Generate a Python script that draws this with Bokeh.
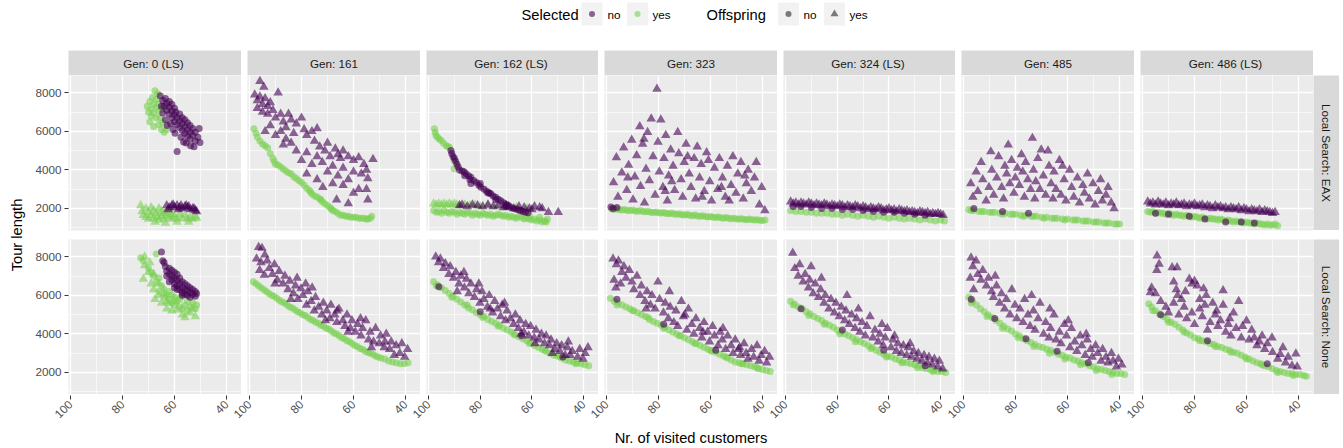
import math
from bokeh.plotting import figure
from bokeh.layouts import row, column
from bokeh.models import Range1d, FixedTicker, Spacer
from bokeh.core.properties import value
from bokeh.embed import file_html
from bokeh.resources import INLINE

FONT = "Liberation Sans"
PURPLE = "#440154"
GREEN = "#7AD151"

GEN_LABELS = ["Gen: 0  (LS)", "Gen: 161", "Gen: 162  (LS)", "Gen: 323", "Gen: 324  (LS)", "Gen: 485", "Gen: 486  (LS)"]
GENS = [0, 161, 162, 323, 324, 485, 486]
ROW_LABELS = ["Local Search: EAX", "Local Search: None"]
X_TICKS = [40, 60, 80, 100]
X_MINOR = [50, 70, 90]
Y_TICKS = [2000, 4000, 6000, 8000]
Y_MINOR = [1000, 3000, 5000, 7000]
SELECTED_LEVELS = ["no", "yes"]
OFFSPRING_LEVELS = ["no", "yes"]

# ---------------- data: (nr. of visited customers, tour length) ----------------
# Gen 0, EAX
EAX_0_SELNO_OFFNO = [(65.5,7850),(64.5,7600),(64,7300),(63.5,7700),(63,7450),(63,7100),(62,7550),(62,7250),(62,6900),(61,7400),(61,7050),(61,6700),(60,7200),(60,6850),(60,6500),(59.5,7000),(59,6700),(59,6350),(59,4950),(58,6900),(58,6550),(58,6200),(57,6700),(57,6400),(57,6050),(56,6600),(56,6250),(56,5900),(55,6450),(55,6100),(55,5750),(54,6300),(54,5950),(54,5600),(53,6150),(53,5800),(52.5,5200),(52,5950),(52,5500),(51,5700),(50.5,6150),(50.2,5420),(61.5,6400),(63.5,6600),(60.5,6100),(57.5,5700),(55.5,5400),(64.5,6950),(62.8,6300),(59.8,5900),(56.5,5450),(53.8,5250),(65,7300)]
EAX_0_SELYES_OFFNO = [(70.5,7300),(70,7000),(69.5,7550),(69,7150),(69,6800),(68.5,7750),(68,7400),(68,6950),(67.5,8100),(67,7650),(67,7250),(67,6700),(66.5,7950),(66,7450),(66,7050),(66,6350),(65.5,6700),(65,7150),(65,6100),(64.5,6450),(64,5950),(63,6100),(68,6250),(69.5,6500)]
EAX_0_SELNO_OFFYES = [(63,2150),(62,2050),(61,2150),(60,2050),(59,2150),(58,2050),(57,2000),(56,2100),(55,2050),(54,1950),(53,2000),(52,1900),(51.5,1850),(60.5,2200),(57.5,2150),(55.5,2150),(62.5,1950),(58.5,1950),(54.5,2100),(52.5,2000)]
EAX_0_SELYES_OFFYES = [(73,2150),(72.5,1850),(72,1650),(71,2000),(71,1550),(70,1800),(70,1450),(69,2050),(69,1650),(68,1900),(68,1500),(67.5,1300),(67,1750),(66.5,1550),(66,2000),(66,1400),(65,1850),(65,1600),(64,1750),(64,1450),(63.5,1250),(63,1650),(62,1550),(62,1850),(61,1450),(61,1700),(60,1600),(59,1450),(58,1700),(57,1500),(56,1650),(55,1450),(54.5,1300),(54,1550),(53,1450),(52,1600),(51.5,1500),(59,1300)]
# Gen 0, None
NONE_0_SELNO_OFFNO = [(65,8250),(64,7700),(63.5,7500),(63,7250),(62,7400),(62,7100),(61,7300),(61,7000),(61,6800),(60,7200),(60,6900),(60,6600),(59,7100),(59,6800),(59,6500),(58,6900),(58,6600),(58,6300),(57,6700),(57,6400),(57,6150),(56,6600),(56,6300),(56,6050),(55,6500),(55,6250),(55,6000),(54,6400),(54,6150),(53,6300),(53,6050),(52,6200),(52,5950),(51.5,6100),(59,6300),(62,6700),(63,7000),(60,6400),(57,6000),(54,5900),(64.5,7800)]
NONE_0_SELYES_OFFNO = [(73,7950),(72,7800),(67,8150),(70,7400),(69,7200),(68,7000),(67,6700),(66,6900),(65,6500),(64,6300),(63,6000),(62,5800),(61,5600),(60,5500),(59,5700),(58,5400),(57,5300),(56,5500),(55,5200),(54,5400),(53,5600),(52,5300),(66,6200),(64,5900),(61,6000),(58,5800),(55,5700),(62,6200),(60,5900),(51.5,5500)]
NONE_0_SELNO_OFFYES = []
NONE_0_SELYES_OFFYES = [(71.5,8000),(71.5,7550),(72,6850),(70,7200),(69,6600),(68,6300),(67.5,5800),(66,6000),(65,5600),(63,5300),(62.5,5600),(61,5200),(59,5250),(57,5000),(56,4850),(52,4900),(54,5100),(58,5900),(60,5700),(64,6100),(66,6600),(68,7100),(53,5300),(63,5700),(69.5,7700)]

# Gen 161
EAX_161_SELNO_OFFNO = []
EAX_161_SELYES_OFFNO = [(98.3,6140),(97.5,5900),(97,5700),(96,5500),(95,5350),(94,5250),(93,5150),(92,4850),(91,4600),(90.5,4450),(90,4300),(89,4250),(88,4150),(87,4050),(86,3950),(85,3850),(84,3800),(83,3650),(82,3550),(81,3450),(80,3350),(79,3200),(78,3050),(77,2950),(76.5,2850),(76,2750),(75,2650),(74,2600),(73,2500),(72.5,2450),(72,2350),(71,2250),(70,2150),(69,2050),(68.5,1980),(68,1900),(67,1850),(66,1750),(65,1650),(64,1650),(63,1600),(62,1600),(61,1550),(60,1550),(59,1550),(58,1500),(57,1500),(56,1500),(55,1450),(54.5,1450),(53.5,1500),(53,1600)]
EAX_161_SELNO_OFFYES = [(96,8600),(94.5,8300),(98,7900),(97,7600),(96,7800),(95,7400),(94,7700),(93,7300),(92,7500),(89,8000),(97,7200),(95,7000),(93,6900),(91,7100),(90,6700),(88,6900),(87,6500),(86,6200),(85,6900),(84,6600),(82,6400),(80,6700),(79,6100),(78,5800),(76,6000),(74,6150),(75,5500),(73,5200),(71,5000),(70,5400),(69,4700),(67,5100),(66,4800),(65,4600),(64,5000),(62,4700),(60,4500),(58,4650),(56,4300),(52.5,4550),(55,4000),(54.5,3550),(57,3800),(60,3900),(62,3500),(64,4100),(66,3700),(68,4200),(70,3900),(72,4400),(74,4700),(76,4300),(78,3800),(80,4500),(82,5000),(84,5400),(86,5600),(88,6000),(90,5800),(92,6300),(94,6000),(71.8,3100),(66.5,2450),(62,2260),(54.5,2450),(58,3000),(60,2800),(64,3200),(68,3300),(55,3000),(74,3500),(78,4900),(83,5900),(87,5300)]
EAX_161_SELYES_OFFYES = []
NONE_161_SELNO_OFFNO = []
NONE_161_SELYES_OFFNO = [(98.5,6700),(97.5,6600),(96.5,6500),(95.5,6400),(94.5,6300),(93.5,6200),(92.5,6100),(91.5,6000),(90.5,5950),(89.5,5850),(88.5,5750),(87.5,5650),(86.5,5600),(85.5,5500),(84.5,5400),(83.5,5350),(82.5,5250),(81.5,5150),(80.5,5100),(79.5,5000),(78.5,4950),(77.5,4850),(76.5,4750),(75.5,4700),(74.5,4600),(73.5,4550),(72.5,4450),(71.5,4400),(70.5,4300),(69.5,4250),(68.5,4150),(67.5,4050),(66.5,4000),(65.5,3900),(64.5,3800),(63.5,3750),(62.5,3650),(61.5,3600),(60.5,3500),(59.5,3400),(58.5,3350),(57.5,3250),(56.5,3200),(55.5,3100),(54.5,3050),(53.5,3000),(52.5,2950),(51.5,2850),(50.5,2800),(49.5,2750),(48,2700),(46.5,2600),(45,2550),(43.5,2500),(42,2450),(40.5,2450),(39,2500)]
NONE_161_SELNO_OFFYES = [(96.5,8500),(95.2,8450),(94.1,8100),(97.3,7900),(95.6,7700),(93.2,7800),(92.4,7400),(96.1,7300),(94.3,7050),(91.2,7100),(90.4,7600),(89.3,6800),(88.6,7250),(87.1,6600),(86.4,7000),(85.2,6300),(84.5,6750),(83.1,6100),(82.3,6500),(81.4,5800),(80.2,6350),(79.5,6000),(78.1,5500),(77.6,6200),(76.3,5700),(75.1,5200),(74.6,5900),(73.4,5400),(72.2,5000),(71.6,5600),(70.3,5200),(69.1,4800),(68.7,5500),(67.2,5000),(66.4,4600),(65.6,5300),(64.1,4700),(63.3,4400),(62.5,5000),(61.2,4300),(60.6,4700),(59.3,4100),(58.4,4500),(57.1,3900),(56.5,4300),(55.3,4700),(54.2,3700),(53.6,4100),(52.3,3600),(51.5,4300),(50.1,3500),(49.6,3900),(48.2,3300),(47.4,4000),(46.1,3200),(45.5,3600),(44.3,2900),(43.6,3400),(42.2,3000),(41.4,3500),(40.3,2800),(39.2,3200),(62.1,4100),(66.3,5200),(78.4,6600),(84.1,5800),(90.2,6600),(57.3,4800),(70.8,4700),(75.9,6400),(81.7,6900),(53.1,3300),(47.9,3600)]
NONE_161_SELYES_OFFYES = []

# Gen 162
EAX_162_SELNO_OFFNO = [(91.3,5010),(91,4850),(90.5,4700),(90,4600),(89.5,4450),(89,4300),(88.5,4150),(88,4000),(87,3950),(86.2,3900),(85.5,3800),(84.5,3700),(83.6,3620),(83.6,3290),(82.5,3450),(81.5,3350),(80.5,3200),(79.7,3100),(78.5,3000),(77.5,2900),(76.5,2820),(75.9,2760),(75,2650),(74,2580),(73,2480),(72,2400),(71,2300),(70,2220),(69,2150),(68.2,2070),(67,2000),(66,1960),(65,1920),(64.3,1900),(63.4,1850),(62.5,1800),(61.5,1780),(86,3700),(84,3500),(80,3300),(77,2800),(74,2450),(70,2100)]
EAX_162_SELYES_OFFNO = [(97.7,6130),(97.4,5950),(97.1,5790),(96.5,5700),(95.8,5600),(95.1,5530),(94.2,5400),(93.2,5270),(92.5,5200),(91.9,5180),(90.1,4490),(90.1,4060),(98,1900),(97,1800),(96,1850),(95,1750),(94,1900),(93,1800),(92,1750),(91,1850),(90,1800),(89,1700),(88,1800),(87,1750),(86,1700),(85,1800),(84,1750),(83,1650),(82,1750),(81,1700),(80,1650),(79,1750),(78,1700),(77,1650),(76,1700),(75,1600),(74,1650),(73,1700),(72,1650),(71,1600),(70,1650),(69,1550),(68,1600),(67,1550),(66,1500),(65,1600),(64,1550),(63,1450),(62,1500),(61,1450),(60,1400),(59,1450),(58,1350),(57,1400),(56,1300),(55,1350),(54.5,1300),(54,1450),(57,1550),(61,1650)]
EAX_162_SELNO_OFFYES = [(88,2150),(87,2200),(85,2100),(83,2200),(81,2150),(79,2100),(77,2200),(75,2100),(73,2150),(71,2050),(69,2100),(67,2000),(65,2100),(63,2050),(61,2000),(59,2100),(57,2050),(56,2000),(53.6,1800),(49.8,1800),(60,1950),(70,2150)]
EAX_162_SELYES_OFFYES = [(98,2250),(97,2200),(96,2250),(95,2200),(94,2250),(93,2200),(92,2250),(91,2200),(90,2250),(89,2200),(88,2150),(86,2200),(84,2150),(82,2200),(80,2100),(77,2150),(74,2100),(70,2050),(66,2050),(62,2000)]
NONE_162_SELNO_OFFNO = [(96,6450),(80,5150),(64,3900),(48,2800)]
NONE_162_SELYES_OFFNO = [(98,6700),(96.5,6550),(95,6400),(93.5,6250),(92,6100),(90.5,5950),(89,5800),(87.5,5650),(86,5500),(84.5,5350),(83,5250),(81.5,5100),(80,5000),(78.5,4900),(77,4750),(75.5,4650),(74,4550),(72.5,4450),(71,4300),(69.5,4200),(68,4100),(66.5,3950),(65,3850),(63.5,3750),(62,3650),(60.5,3550),(59,3400),(57.5,3300),(56,3200),(54.5,3100),(53,3000),(51.5,2900),(50,2850),(48.5,2750),(47,2650),(45.5,2600),(44,2550),(42.5,2500),(41,2450),(39.5,2400),(38,2350),(97,6500),(91,5900),(85,5500),(79,4850),(73,4400),(67,4000),(61,3500),(55,3150),(49,2800),(43,2450)]
NONE_162_SELNO_OFFYES = [(97.2,8000),(96.1,7700),(95.4,7900),(94.2,7400),(93.5,7650),(92.1,7100),(91.6,7500),(90.3,6900),(89.4,7200),(88.2,6600),(87.5,7000),(86.1,6400),(85.3,6850),(84.4,6100),(83.6,6600),(82.2,5900),(81.4,6300),(80.1,5600),(79.3,6200),(78.6,5800),(77.2,5400),(76.5,6000),(75.2,5100),(74.4,5700),(73.3,5300),(72.1,4900),(71.5,5500),(70.2,4700),(69.6,5200),(68.3,4800),(67.1,4500),(66.4,5000),(65.2,4300),(64.6,4700),(63.1,4100),(62.4,4500),(61.2,3900),(60.5,4400),(59.1,3800),(58.4,4200),(57.2,3700),(56.3,4000),(55.1,3500),(54.5,3900),(53.2,3400),(52.6,3700),(51.1,3200),(50.4,3500),(49.2,3100),(48.5,3400),(47.1,2900),(46.3,3300),(45.2,2900),(44.4,3100),(42.3,2800),(41.5,3200),(40.2,2700),(39.4,3000),(38.3,3300),(70.6,5600),(80.5,6600),(86.3,7200),(76.1,5300),(64.2,4000),(58.8,3500),(52.1,3000),(45.9,3600),(88.9,6200)]
NONE_162_SELYES_OFFYES = []

# Gen 323
EAX_323_SELNO_OFFNO = [(98.3,2080),(97.5,2000),(96,2050)]
EAX_323_SELYES_OFFNO = [(98,1980),(97,1950),(96,1990),(95,1940),(94,1920),(93,1950),(92,1900),(91,1890),(90,1920),(89,1870),(88,1860),(87,1890),(86,1840),(85,1830),(84,1860),(83,1810),(82,1790),(81,1820),(80,1780),(79,1760),(78,1790),(77,1740),(76,1730),(75,1760),(74,1710),(73,1700),(72,1720),(71,1680),(70,1660),(69,1690),(68,1650),(67,1630),(66,1660),(65,1610),(64,1600),(63,1620),(62,1580),(61,1560),(60,1590),(59,1550),(58,1530),(57,1560),(56,1520),(55,1500),(54,1530),(53,1490),(52,1470),(51,1500),(50,1460),(49,1450),(48,1470),(47,1430),(46,1420),(45,1450),(44,1410),(43,1400),(42,1420),(41,1390),(40,1380),(39,1400)]
EAX_323_SELNO_OFFYES = [(97.3,3350),(96.2,4650),(95.6,2600),(94.1,3850),(93.4,5150),(92.2,2950),(91.5,4250),(90.3,5550),(89.8,2450),(89.1,3650),(88.4,4750),(87.2,6250),(86.9,3150),(86.1,5350),(85.4,2300),(84.8,4050),(84.2,5950),(83.5,3450),(82.8,6650),(82.1,4700),(81.3,2700),(80.6,8200),(80.2,5450),(79.7,3900),(79.1,6600),(78.3,3100),(77.9,4600),(77.2,5800),(76.6,2400),(76.1,3700),(75.3,5050),(74.4,4200),(73.8,2950),(72.6,5950),(72.2,4850),(71.3,3500),(70.7,2600),(70.1,4400),(69.4,5350),(68.2,3800),(67.5,3100),(66.3,4600),(65.7,2500),(65.1,5200),(64.2,3600),(63.6,4300),(62.4,2900),(61.5,4900),(60.3,3400),(59.6,2400),(58.5,4100),(57.2,3000),(56.6,4600),(55.4,3600),(54.3,2600),(53.5,4200),(52.1,3200),(51.4,4700),(50.2,2800),(49.5,3800),(48.3,4400),(47.4,2500),(46.2,3300),(45.5,4000),(44.3,2900),(43.1,3600),(42.4,4400),(41.2,2200),(40.3,3100),(39.1,1900),(85.6,5600),(77.4,2900),(68.8,4700),(60.8,4500),(55.8,3100),(46.8,3700),(91.8,3600),(74.9,3400),(63.2,2600),(52.8,2400)]
EAX_323_SELYES_OFFYES = []
NONE_323_SELNO_OFFNO = [(96,5800),(78,4500),(58,3150)]
NONE_323_SELYES_OFFNO = [(98.5,5850),(97,5700),(95.5,5600),(94,5500),(92.5,5400),(91,5300),(89.5,5200),(88,5100),(86.5,5000),(85,4900),(83.5,4750),(82,4650),(80.5,4550),(79,4450),(77.5,4350),(76,4200),(74.5,4100),(73,4000),(71.5,3900),(70,3800),(68.5,3700),(67,3600),(65.5,3500),(64,3400),(62.5,3300),(61,3200),(59.5,3100),(58,3050),(56.5,2950),(55,2850),(53.5,2750),(52,2650),(50.5,2550),(49,2500),(47.5,2450),(46,2400),(44.5,2350),(43,2300),(41.5,2200),(40,2150),(38.5,2100),(37,2050),(96,5500),(90,5200),(84,4850),(78,4300),(72,3900),(66,3500),(60,3150),(54,2800),(48,2450),(42,2250)]
NONE_323_SELNO_OFFYES = [(97.5,7900),(96.2,7600),(95.4,7800),(94.1,7200),(93.3,7500),(92.5,6900),(91.2,7300),(97.1,6800),(96.4,6400),(94.6,6600),(90.2,6700),(89.5,6300),(88.3,7000),(87.1,6000),(86.6,6500),(85.2,5700),(84.4,6200),(83.1,5500),(82.5,6000),(81.3,5300),(80.2,6700),(79.6,5800),(78.1,5100),(77.4,5600),(76.2,4800),(75.5,5400),(74.1,4600),(73.3,5200),(72.6,4400),(71.2,5700),(70.4,4900),(69.1,4200),(68.5,5300),(67.2,4500),(66.4,4000),(65.6,4800),(64.2,4300),(63.3,3800),(62.5,4600),(61.1,4100),(60.4,3600),(59.2,4400),(58.5,3900),(57.1,3400),(56.3,4100),(55.5,3700),(54.2,3200),(53.4,3900),(52.1,3400),(51.3,3000),(50.5,3700),(49.2,3200),(48.4,2900),(47.1,3500),(46.3,3000),(45.6,2700),(44.2,3200),(43.4,2800),(42.1,3400),(41.3,2600),(40.5,2900),(39.2,3100),(38.4,2500),(37.3,2800),(75.8,6200),(69.8,5000),(62.9,4100),(55.2,4300),(48.8,3300),(84.8,5300)]
NONE_323_SELYES_OFFYES = []

# Gen 324
EAX_324_SELNO_OFFNO = [(97,2100),(94,2100),(90,2050),(86,2000),(82,2000),(78,1950),(74,1950),(70,1900),(66,1850),(62,1800),(58,1800),(54,1750),(50,1700),(46,1650)]
EAX_324_SELYES_OFFNO = [(98,1900),(96,1850),(94,1850),(92,1800),(90,1800),(88,1750),(86,1750),(84,1750),(82,1700),(80,1700),(78,1650),(76,1700),(74,1650),(72,1600),(70,1650),(68,1600),(66,1550),(64,1600),(62,1550),(60,1500),(58,1550),(56,1500),(54,1450),(52,1500),(50,1450),(48,1400),(46,1450),(44,1400),(42,1350),(40,1400),(38.5,1350)]
EAX_324_SELNO_OFFYES = [(98,2350),(97,2250),(96,2300),(95,2200),(94,2300),(93,2250),(92,2200),(91,2300),(90,2250),(89,2150),(88,2250),(87,2200),(86,2150),(85,2250),(84,2200),(83,2100),(82,2200),(81,2150),(80,2100),(79,2200),(78,2150),(77,2050),(76,2150),(75,2100),(74,2050),(73,2150),(72,2100),(71,2000),(70,2100),(69,2050),(68,1950),(67,2050),(66,2000),(65,1950),(64,2050),(63,2000),(62,1900),(61,1950),(60,2000),(59,1900),(58,1950),(57,1850),(56,1950),(55,1900),(54,1850),(53,1900),(52,1800),(51,1850),(50,1800),(49,1750),(48,1850),(47,1800),(46,1750),(45,1800),(44,1700),(43,1750),(42,1700),(41,1750),(40,1700),(39,1650)]
EAX_324_SELYES_OFFYES = []
NONE_324_SELNO_OFFNO = [(94,5300),(78,4200),(62,3150),(46,2350)]
NONE_324_SELYES_OFFNO = [(98,5700),(96.5,5550),(95,5400),(93.5,5300),(92,5150),(90.5,5050),(89,4900),(87.5,4800),(86,4700),(84.5,4550),(83,4450),(81.5,4350),(80,4200),(78.5,4100),(77,4000),(75.5,3900),(74,3800),(72.5,3700),(71,3600),(69.5,3500),(68,3400),(66.5,3300),(65,3150),(63.5,3050),(62,2950),(60.5,2850),(59,2800),(57.5,2700),(56,2650),(54.5,2550),(53,2500),(51.5,2450),(50,2400),(48.5,2350),(47,2250),(45.5,2200),(44,2150),(42.5,2100),(41,2050),(39.5,2050),(38,2000),(97,5500),(91,4950),(85,4500),(79,4000),(73,3600),(67,3250),(61,2800),(55,2500),(49,2250),(43,2050)]
NONE_324_SELNO_OFFYES = [(97.2,8200),(96.4,7400),(95.1,7000),(94.5,7600),(93.2,6700),(92.4,7100),(91.1,6400),(90.6,6800),(89.3,6100),(88.5,6600),(87.2,5900),(86.4,6300),(85.1,5600),(84.6,6000),(83.2,5300),(82.4,5800),(81.1,5100),(80.5,5600),(79.2,4900),(78.4,5400),(77.1,4700),(76.6,5200),(75.3,4500),(74.4,5000),(73.1,4300),(72.5,4800),(71.2,4100),(70.4,4600),(69.1,3900),(68.5,4400),(67.3,4900),(66.2,3800),(65.4,4200),(64.1,3600),(63.5,4000),(62.2,3400),(61.4,3800),(60.6,4300),(59.2,3300),(58.4,3700),(57.1,3100),(56.5,3500),(55.2,3000),(54.4,3400),(53.1,2900),(52.5,3300),(51.2,2800),(50.4,3100),(49.1,2700),(48.6,3000),(47.2,2600),(46.4,2900),(45.1,2500),(44.5,2800),(43.2,2400),(42.4,2700),(41.1,2300),(40.5,2600),(39.2,2200),(62.7,4500),(76.2,6000),(86.1,6900),(71.8,5300),(57.8,3900),(90.1,7500),(51.8,3500)]
NONE_324_SELYES_OFFYES = []

# Gen 485
EAX_485_SELNO_OFFNO = [(96,2000),(85,1850),(75,1750)]
EAX_485_SELYES_OFFNO = [(98,1950),(96,1900),(94,1850),(92,1850),(90,1800),(88,1800),(86,1750),(84,1750),(82,1700),(80,1700),(78,1650),(76,1650),(74,1600),(72,1600),(70,1550),(68,1550),(66,1500),(64,1500),(62,1450),(60,1450),(58,1400),(56,1400),(54,1350),(52,1350),(50,1300),(48,1300),(46,1250),(44,1250),(42,1200),(40,1200),(97,1900),(93,1850),(89,1800),(85,1700),(81,1700),(77,1600),(73,1600),(69,1500),(65,1500),(61,1400),(57,1400),(53,1350),(49,1300),(45,1250),(41,1200)]
EAX_485_SELNO_OFFYES = [(97.2,3300),(96.4,2600),(95.1,3900),(94.5,2900),(93.2,4400),(92.6,3500),(91.3,2400),(89.5,4950),(90.2,3100),(89.1,4000),(88.4,2700),(87.2,3600),(86.5,4700),(85.3,3100),(84.6,2500),(84.1,4200),(83.4,3800),(82.2,3300),(81.5,4500),(80.6,2800),(80.1,3600),(79.3,4100),(78.5,3200),(77.2,3900),(76.6,2600),(76.1,4400),(75.3,3500),(73.5,5650),(74.2,3000),(73.1,4000),(72.6,2500),(72.2,3400),(71.4,4600),(70.1,5050),(70.6,3000),(69.3,3700),(67.5,5000),(68.4,2700),(67.1,4200),(66.3,3300),(65.6,2500),(65.2,3900),(64.4,3000),(63.1,4500),(62.5,2700),(61.3,3500),(60.6,2400),(59.2,4000),(58.4,3100),(57.6,2600),(56.2,3600),(55.4,2300),(54.1,3200),(53.5,2800),(52.3,3800),(51.6,2500),(50.2,3300),(49.4,2200),(48.1,2900),(47.3,3500),(46.6,2400),(45.2,2700),(44.4,3100),(43.2,2300),(42.1,2000),(82.8,5300),(77.7,4800),(61.9,4200)]
EAX_485_SELYES_OFFYES = []
NONE_485_SELNO_OFFNO = [(97,5800),(88,4800),(76,3750),(64,3100),(52,2500)]
NONE_485_SELYES_OFFNO = [(98,5900),(96.5,5700),(95,5500),(93.5,5300),(92,5150),(90.5,5000),(89,4850),(87.5,4700),(86,4550),(84.5,4400),(83,4250),(81.5,4150),(80,4000),(78.5,3900),(77,3750),(75.5,3650),(74,3550),(72.5,3450),(71,3350),(69.5,3300),(68,3200),(66.5,3150),(65,3050),(63.5,2950),(62,2900),(60.5,2800),(59,2750),(57.5,2650),(56,2600),(54.5,2500),(53,2450),(51.5,2350),(50,2300),(48.5,2200),(47,2150),(45.5,2100),(44,2050),(42.5,2000),(41,1950),(39.5,1950),(38,1900),(97,5600),(91,4900),(85,4300),(79,3800),(73,3350),(67,3000),(61,2700),(55,2400),(49,2100),(43,1900)]
NONE_485_SELNO_OFFYES = [(97.1,7950),(96.4,7500),(95.2,7800),(94.5,7100),(93.3,6800),(92.6,7300),(91.2,6500),(97.4,6900),(96.1,6300),(90.4,6900),(89.2,6200),(88.5,5900),(87.3,6500),(86.1,5600),(85.4,6100),(84.2,5300),(83.5,5800),(82.1,5000),(81.4,6300),(80.2,5500),(79.5,4800),(78.3,5300),(77.1,4600),(76.5,5800),(75.2,5000),(74.4,4400),(73.1,5200),(72.5,4200),(71.3,4800),(70.6,5600),(69.2,4000),(68.4,4600),(67.1,3800),(66.5,4300),(65.2,5000),(64.4,3700),(63.1,4100),(62.5,3500),(61.2,4500),(60.4,3900),(59.1,3300),(58.5,4300),(57.2,3600),(56.4,3100),(55.1,3900),(54.5,3400),(53.2,2900),(52.4,3700),(51.1,3200),(50.5,2800),(49.2,3400),(48.4,3000),(47.1,2600),(46.5,3200),(45.2,2800),(44.4,2500),(43.1,3000),(42.5,2600),(41.2,2300),(40.4,2700),(39.1,2400),(73.8,6000),(66.8,5300),(59.7,4700),(52.8,4000),(87.8,7000)]
NONE_485_SELYES_OFFYES = []

# Gen 486
EAX_486_SELNO_OFFNO = [(95,1750),(90,1700),(82,1600),(76,1450),(68,1300),(62,1300),(57,1250)]
EAX_486_SELYES_OFFNO = [(98,1850),(97,1800),(96,1850),(95,1750),(94,1800),(93,1750),(92,1750),(91,1700),(90,1750),(89,1700),(88,1650),(87,1700),(86,1650),(85,1650),(84,1600),(83,1650),(82,1600),(81,1550),(80,1600),(79,1550),(78,1500),(77,1550),(76,1500),(75,1450),(74,1500),(73,1450),(72,1450),(71,1400),(70,1450),(69,1400),(68,1350),(67,1400),(66,1350),(65,1300),(64,1350),(63,1300),(62,1300),(61,1250),(60,1300),(59,1250),(58,1250),(57,1200),(56,1250),(55,1200),(54,1200),(53,1150),(52,1200),(51,1150),(50,1150),(49,1200),(48,1100)]
EAX_486_SELNO_OFFYES = [(98,2350),(97,2250),(96,2300),(95,2200),(94,2350),(93,2250),(92,2200),(91,2300),(90,2150),(89,2250),(88,2200),(87,2300),(86,2150),(85,2200),(84,2250),(83,2100),(82,2200),(81,2150),(80,2250),(79,2100),(78,2150),(77,2200),(76,2050),(75,2150),(74,2100),(73,2000),(72,2150),(71,2050),(70,2100),(69,2000),(68,2050),(67,1950),(66,2050),(65,2000),(64,1950),(63,2050),(62,1900),(61,2000),(60,1950),(59,1850),(58,1950),(57,1900),(56,1850),(55,1950),(54,1800),(53,1900),(52,1850),(51,1800),(50,1750),(49,1800)]
EAX_486_SELYES_OFFYES = []
NONE_486_SELNO_OFFNO = [(93,5000),(75,3650),(52,2450)]
NONE_486_SELYES_OFFNO = [(97.6,5560),(96.5,5400),(95,5200),(93.5,5050),(92,4900),(90.5,4750),(89,4600),(87.5,4500),(86,4350),(84.5,4200),(83,4050),(81.5,3950),(80,3800),(78.5,3750),(77,3650),(75.5,3600),(74,3500),(72.5,3450),(71,3350),(69.5,3300),(68,3200),(66.5,3150),(65,3050),(63.5,3000),(62,2900),(60.5,2800),(59,2700),(57.5,2600),(56,2500),(54.5,2450),(53,2350),(51.5,2300),(50,2200),(48.5,2100),(47,2050),(45.5,2000),(44,1950),(42.5,1950),(41,1900),(39.5,1900),(38,1850),(37,1800),(96,5200),(90,4600),(84,4100),(78,3650),(72,3350),(66,3050),(60,2700),(54,2400),(48,2000),(42,1850)]
NONE_486_SELNO_OFFYES = [(94.4,8050),(93.6,7620),(94.5,7300),(88.6,7450),(86.7,7450),(96.5,6400),(97,6150),(95,6100),(88,6700),(87,6300),(86.5,6000),(82,6850),(81,6600),(80,6750),(79,6500),(76.5,6350),(75.5,6000),(69,6250),(63,5700),(93,5700),(91,5400),(90,5100),(88,5600),(86,5000),(84,5400),(83,4800),(81,5100),(80,4500),(78,5300),(77,4900),(75,4200),(74,4600),(72,5000),(71,4400),(70,4700),(68,4100),(67,4500),(66,3900),(64,4300),(62,3800),(60,4680),(59,3700),(57,3800),(56,3400),(55,3600),(53,3200),(52,3500),(50.2,3800),(50,3050),(48,2700),(47,2950),(45,2500),(44,2800),(42.5,2350),(41,2970),(40.5,2300),(69,5500),(73,5600),(78,5800),(85,5800),(65,5100),(83.5,6200),(76,5500),(71.5,5200),(66.5,4800),(61.5,4400),(58,4200),(54,3900),(46,3300)]
NONE_486_SELYES_OFFYES = []

DATA = {
    ("EAX", 0): (EAX_0_SELNO_OFFNO, EAX_0_SELYES_OFFNO, EAX_0_SELNO_OFFYES, EAX_0_SELYES_OFFYES),
    ("EAX", 161): (EAX_161_SELNO_OFFNO, EAX_161_SELYES_OFFNO, EAX_161_SELNO_OFFYES, EAX_161_SELYES_OFFYES),
    ("EAX", 162): (EAX_162_SELNO_OFFNO, EAX_162_SELYES_OFFNO, EAX_162_SELNO_OFFYES, EAX_162_SELYES_OFFYES),
    ("EAX", 323): (EAX_323_SELNO_OFFNO, EAX_323_SELYES_OFFNO, EAX_323_SELNO_OFFYES, EAX_323_SELYES_OFFYES),
    ("EAX", 324): (EAX_324_SELNO_OFFNO, EAX_324_SELYES_OFFNO, EAX_324_SELNO_OFFYES, EAX_324_SELYES_OFFYES),
    ("EAX", 485): (EAX_485_SELNO_OFFNO, EAX_485_SELYES_OFFNO, EAX_485_SELNO_OFFYES, EAX_485_SELYES_OFFYES),
    ("EAX", 486): (EAX_486_SELNO_OFFNO, EAX_486_SELYES_OFFNO, EAX_486_SELNO_OFFYES, EAX_486_SELYES_OFFYES),
    ("None", 0): (NONE_0_SELNO_OFFNO, NONE_0_SELYES_OFFNO, NONE_0_SELNO_OFFYES, NONE_0_SELYES_OFFYES),
    ("None", 161): (NONE_161_SELNO_OFFNO, NONE_161_SELYES_OFFNO, NONE_161_SELNO_OFFYES, NONE_161_SELYES_OFFYES),
    ("None", 162): (NONE_162_SELNO_OFFNO, NONE_162_SELYES_OFFNO, NONE_162_SELNO_OFFYES, NONE_162_SELYES_OFFYES),
    ("None", 323): (NONE_323_SELNO_OFFNO, NONE_323_SELYES_OFFNO, NONE_323_SELNO_OFFYES, NONE_323_SELYES_OFFYES),
    ("None", 324): (NONE_324_SELNO_OFFNO, NONE_324_SELYES_OFFNO, NONE_324_SELNO_OFFYES, NONE_324_SELYES_OFFYES),
    ("None", 485): (NONE_485_SELNO_OFFNO, NONE_485_SELYES_OFFNO, NONE_485_SELNO_OFFYES, NONE_485_SELYES_OFFYES),
    ("None", 486): (NONE_486_SELNO_OFFNO, NONE_486_SELYES_OFFNO, NONE_486_SELNO_OFFYES, NONE_486_SELYES_OFFYES),
}
ROW_KEYS = ["EAX", "None"]

# ---------------- layout constants (page pixels) ----------------
PANEL_W = [173, 173, 172, 173, 172, 173, 173]
PANEL_H = 155
GAP_X = 6
GAP_Y = 9
LEFT_AXIS = 38
AXIS_H = 32
LABEL_OVERHANG = 16
STRIP_H = 25
RSTRIP_W = 26
YLAB_W = 30
LEGEND_H = 50
XLAB_H = 22
TOTAL_W = YLAB_W + LEFT_AXIS + sum(PANEL_W) + GAP_X * 6 + RSTRIP_W

XR = Range1d(100.77, 34.23)
YR = Range1d(859, 8897)

ALPHA = 0.6
CIRCLE_SIZE = 7
TRI_SIZE = 9.5


def canvas(w, h, bg="white", left=0):
    p = figure(width=w + left, height=h, x_range=Range1d(0, w), y_range=Range1d(0, h),
               output_backend="svg", toolbar_location=None,
               x_axis_location=None, y_axis_location=None,
               min_border_left=left, min_border_right=0, min_border_top=0, min_border_bottom=0,
               background_fill_color=bg, border_fill_color="white", outline_line_color=None)
    p.grid.visible = False
    return p


def style_axis(ax):
    ax.axis_line_color = None
    ax.major_tick_line_color = "#333333"
    ax.major_tick_line_width = 1
    ax.major_tick_in = 0
    ax.major_tick_out = 4
    ax.minor_tick_line_color = None
    ax.major_label_standoff = 3
    ax.major_label_text_font = FONT
    ax.major_label_text_font_size = "11.7px"
    ax.major_label_text_color = "#4D4D4D"


def panel(k, r):
    first = k == 0
    w = PANEL_W[k] + (LEFT_AXIS if first else 0)
    h = PANEL_H + (GAP_Y if r == 0 else 0)
    p = figure(width=w, height=h, x_range=XR, y_range=YR,
               output_backend="svg", toolbar_location=None,
               x_axis_location=None,
               y_axis_location="left" if first else None,
               min_border_left=LEFT_AXIS if first else 0, min_border_right=0,
               min_border_top=0, min_border_bottom=GAP_Y if r == 0 else 0,
               background_fill_color="#EBEBEB", border_fill_color="white",
               outline_line_color=None)
    p.xgrid.ticker = FixedTicker(ticks=X_TICKS, minor_ticks=X_MINOR)
    p.ygrid.ticker = FixedTicker(ticks=Y_TICKS, minor_ticks=Y_MINOR)
    p.grid.grid_line_color = "white"
    p.grid.grid_line_width = 1.3
    p.grid.minor_grid_line_color = "white"
    p.grid.minor_grid_line_width = 0.6
    if first:
        ax = p.yaxis[0]
        ax.ticker = FixedTicker(ticks=Y_TICKS)
        style_axis(ax)

    no_no, yes_no, no_yes, yes_yes = DATA[(ROW_KEYS[r], GENS[k])]
    for pts, color, marker, size in [(yes_no, GREEN, "circle", CIRCLE_SIZE),
                                     (yes_yes, GREEN, "triangle", TRI_SIZE),
                                     (no_yes, PURPLE, "triangle", TRI_SIZE),
                                     (no_no, PURPLE, "circle", CIRCLE_SIZE)]:
        if not pts:
            continue
        p.scatter([a for a, b in pts], [b for a, b in pts], marker=marker, size=size,
                  fill_color=color, fill_alpha=ALPHA, line_color=None)
    return p


def axis_fig(k):
    # x axis for bottom panel k; its frame starts at the panel's left edge, with the
    # same scale, and leaves room on the left for the rotated "100" label.
    W = PANEL_W[k]
    scale = W / (XR.start - XR.end)
    left = LEFT_AXIS if k == 0 else LABEL_OVERHANG
    fw = W - (LABEL_OVERHANG - GAP_X) if k < 6 else W
    rng = Range1d(XR.start, XR.start - fw / scale)
    p = figure(width=left + fw, height=AXIS_H, x_range=rng, y_range=Range1d(0, 1),
               output_backend="svg", toolbar_location=None,
               x_axis_location="below", y_axis_location=None,
               min_border_left=left, min_border_right=0, min_border_top=0,
               min_border_bottom=AXIS_H - 1,
               background_fill_color="white", border_fill_color="white",
               outline_line_color=None)
    p.grid.visible = False
    ax = p.xaxis[0]
    ax.ticker = FixedTicker(ticks=X_TICKS)
    style_axis(ax)
    ax.major_label_orientation = math.pi / 4
    return p


def top_strip(k):
    left = LEFT_AXIS if k == 0 else 0
    w = PANEL_W[k]
    p = canvas(w, STRIP_H, bg="#D9D9D9", left=left)
    p.text(x=[w / 2], y=[STRIP_H / 2], text=[GEN_LABELS[k]], text_align="center",
           text_baseline="middle", text_font=value(FONT), text_font_size="11.7px",
           text_color="#1A1A1A")
    return p


def right_strip(r):
    p = canvas(RSTRIP_W, PANEL_H, bg="#D9D9D9")
    p.text(x=[RSTRIP_W / 2], y=[PANEL_H / 2], text=[ROW_LABELS[r]], angle=-math.pi / 2,
           text_align="center", text_baseline="middle", text_font=value(FONT),
           text_font_size="11.7px", text_color="#1A1A1A")
    return p


# ---------------- legend ----------------
leg = canvas(TOTAL_W, LEGEND_H)
TY = LEGEND_H - 14
KY = LEGEND_H - 13.5
leg.text(x=[521], y=[TY], text=["Selected"], text_align="left", text_baseline="middle",
         text_font=value(FONT), text_font_size="14.7px", text_color="black")
leg.text(x=[706], y=[TY], text=["Offspring"], text_align="left", text_baseline="middle",
         text_font=value(FONT), text_font_size="14.7px", text_color="black")
key_x = [591.5, 637, 788, 834]
leg.rect(x=key_x, y=[KY] * 4, width=21, height=23, fill_color="#F2F2F2", line_color=None)
leg.scatter([key_x[0]], [KY], marker="circle", size=6, fill_color=PURPLE, fill_alpha=ALPHA, line_color=None)
leg.scatter([key_x[1]], [KY], marker="circle", size=6, fill_color=GREEN, fill_alpha=ALPHA, line_color=None)
leg.scatter([key_x[2]], [KY], marker="circle", size=6, fill_color="black", fill_alpha=0.5, line_color=None)
leg.scatter([key_x[3]], [KY], marker="triangle", size=8, fill_color="black", fill_alpha=0.5, line_color=None)
leg.text(x=[607, 652, 803, 849], y=[TY] * 4,
         text=[SELECTED_LEVELS[0], SELECTED_LEVELS[1], OFFSPRING_LEVELS[0], OFFSPRING_LEVELS[1]],
         text_align="left", text_baseline="middle", text_font=value(FONT),
         text_font_size="11.7px", text_color="black")

# ---------------- y label ----------------
MID_H = STRIP_H + PANEL_H + GAP_Y + PANEL_H
ylab = canvas(YLAB_W, MID_H)
ylab.text(x=[16], y=[MID_H - (STRIP_H + PANEL_H + GAP_Y / 2)], text=["Tour length"], angle=math.pi / 2,
          text_align="center", text_baseline="middle", text_font=value(FONT),
          text_font_size="14.7px", text_color="black")

# ---------------- x label ----------------
xlab = canvas(TOTAL_W, XLAB_H)
panels_center = YLAB_W + LEFT_AXIS + (sum(PANEL_W) + GAP_X * 6) / 2
xlab.text(x=[panels_center], y=[XLAB_H - 11], text=["Nr. of visited customers"], text_align="center",
          text_baseline="middle", text_font=value(FONT), text_font_size="14.7px",
          text_color="black")

# ---------------- assemble ----------------
children = [ylab]
for k in range(7):
    if k > 0:
        children.append(Spacer(width=GAP_X, height=MID_H))
    children.append(column([top_strip(k), panel(k, 0), panel(k, 1)], spacing=0))
children.append(column([Spacer(width=RSTRIP_W, height=STRIP_H), right_strip(0),
                        Spacer(width=RSTRIP_W, height=GAP_Y), right_strip(1)], spacing=0))
mid = row(children, spacing=0)

axis_children = [Spacer(width=YLAB_W, height=AXIS_H)] + [axis_fig(k) for k in range(7)] + \
                [Spacer(width=RSTRIP_W, height=AXIS_H)]
axis_row = row(axis_children, spacing=0)

layout = column([leg, mid, axis_row, xlab], spacing=0)

open("out.html", "w").write(file_html(layout, INLINE))
